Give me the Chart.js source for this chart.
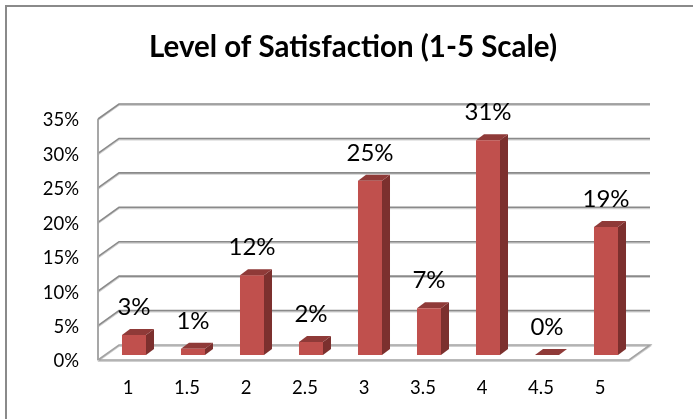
<!DOCTYPE html>
<html>
<head>
<meta charset="utf-8">
<style>
html,body{margin:0;padding:0;background:#fff;overflow:hidden}
#frame{position:absolute;left:5px;top:5px;width:688px;height:414px;border-left:2px solid #8a8a8a;border-top:2px solid #8a8a8a;box-sizing:border-box}
canvas{position:absolute;left:0;top:0}
</style>
</head>
<body>
<div id="frame"></div>
<canvas id="c" width="693" height="419"></canvas>
<script src="https://cdn.jsdelivr.net/npm/chart.js@4/dist/chart.umd.min.js"></script>
<script>
const categories = ['1','1.5','2','2.5','3','3.5','4','4.5','5'];
const satisfaction = [2.9,0.9,11.6,1.9,25.3,6.8,31.2,0,18.6];
const percentTicks = [0,5,10,15,20,25,30,35];
const chartTitle = 'Level of Satisfaction (1-5 Scale)';
const FONT = 'Lato, Carlito, Calibri, sans-serif';

const wallDepth = {front:{x:-6.5,y:5}, back:{x:14.5,y:-10}};
const barDepth = {x:8,y:-6};

const walls = {
  id:'walls',
  beforeDatasetsDraw(chart){
    const {ctx,scales:{y},chartArea:a} = chart;
    const fl = a.left+wallDepth.front.x, fr = a.right+wallDepth.front.x;
    const bl = a.left+wallDepth.back.x, br = a.right+wallDepth.back.x;
    const fy = v=>y.getPixelForValue(v)+wallDepth.front.y;
    const by = v=>y.getPixelForValue(v)+wallDepth.back.y;
    ctx.save();
    ctx.lineJoin='miter';
    const strokePath=(pts,color,w,dy)=>{
      ctx.beginPath();
      pts.forEach((p,i)=>i?ctx.lineTo(p[0],p[1]+dy):ctx.moveTo(p[0],p[1]+dy));
      ctx.strokeStyle=color;ctx.lineWidth=w;ctx.stroke();
    };
    const both=(pts,color)=>{
      strokePath(pts,'#cfcfcf',1.5,1.2);
      strokePath(pts,color,1.6,0);
    };
    percentTicks.forEach(v=>{
      if(v===0) return;
      both([[fl,fy(v)],[bl,by(v)],[br,by(v)]],'#8a8a8a');
    });
    both([[fl,fy(0)],[bl,by(0)],[br,by(0)],[fr,fy(0)],[fl,fy(0)]],'#a3a3a3');
    both([[fl,fy(35)],[fl,fy(0)]],'#9a9a9a');
    ctx.restore();
  }
};

const bars3d = {
  id:'bars3d',
  beforeDatasetDraw(chart){
    const {ctx} = chart;
    const dx=barDepth.x, dy=barDepth.y;
    ctx.save();
    chart.getDatasetMeta(0).data.forEach(b=>{
      const l=b.x-b.width/2, r=b.x+b.width/2, t=b.y, bt=b.base;
      ctx.fillStyle='#7c302e';
      ctx.beginPath();ctx.moveTo(r,t);ctx.lineTo(r+dx,t+dy);ctx.lineTo(r+dx,bt+dy);ctx.lineTo(r,bt);ctx.closePath();ctx.fill();
      ctx.fillStyle='#8f3a38';
      ctx.beginPath();ctx.moveTo(l,t);ctx.lineTo(l+dx,t+dy);ctx.lineTo(r+dx,t+dy);ctx.lineTo(r,t);ctx.closePath();ctx.fill();
    });
    ctx.restore();
  }
};

const valueLabels = {
  id:'valueLabels',
  afterDatasetsDraw(chart){
    const {ctx} = chart;
    ctx.save();
    ctx.font='24px '+FONT;
    ctx.fillStyle='#000';
    ctx.textAlign='center';
    ctx.textBaseline='middle';
    chart.getDatasetMeta(0).data.forEach((b,i)=>{
      ctx.fillText(Math.round(satisfaction[i])+'%',b.x,b.y-27.5);
    });
    ctx.restore();
  }
};

new Chart(document.getElementById('c'),{
  type:'bar',
  data:{labels:categories,datasets:[{
    data:satisfaction,
    backgroundColor:'#c0504d',
    borderWidth:0,
    categoryPercentage:1,
    barPercentage:0.407
  }]},
  options:{
    responsive:false,
    animation:false,
    layout:{padding:{left:13,right:0,top:0,bottom:0}},
    plugins:{
      legend:{display:false},
      tooltip:{enabled:false},
      title:{display:true,text:chartTitle,color:'#000',
        font:{family:FONT,size:29.5,weight:'bold',lineHeight:1.2},
        padding:{top:30,bottom:48.6}}
    },
    scales:{
      x:{
        grid:{display:false,drawTicks:false},border:{display:false},
        afterFit(s){s.height=64;},
        ticks:{color:'#000',font:{family:FONT,size:18.5},padding:22,labelOffset:-6,autoSkip:false,maxRotation:0}
      },
      y:{
        min:0,max:35,
        grid:{display:false,drawTicks:false},border:{display:false},
        afterFit(s){s.width=91.5;},
        afterBuildTicks(s){s.ticks=percentTicks.map(v=>({value:v}));},
        ticks:{color:'#000',font:{family:FONT,size:18.5},padding:25.5,labelOffset:6.5,callback:v=>v+'%'}
      },
      rightMargin:{
        position:'right',min:0,max:35,
        grid:{display:false,drawTicks:false},border:{display:false},
        ticks:{display:false},
        afterFit(s){s.width=57.5;}
      }
    }
  },
  plugins:[walls,bars3d,valueLabels]
});
</script>
</body>
</html>
